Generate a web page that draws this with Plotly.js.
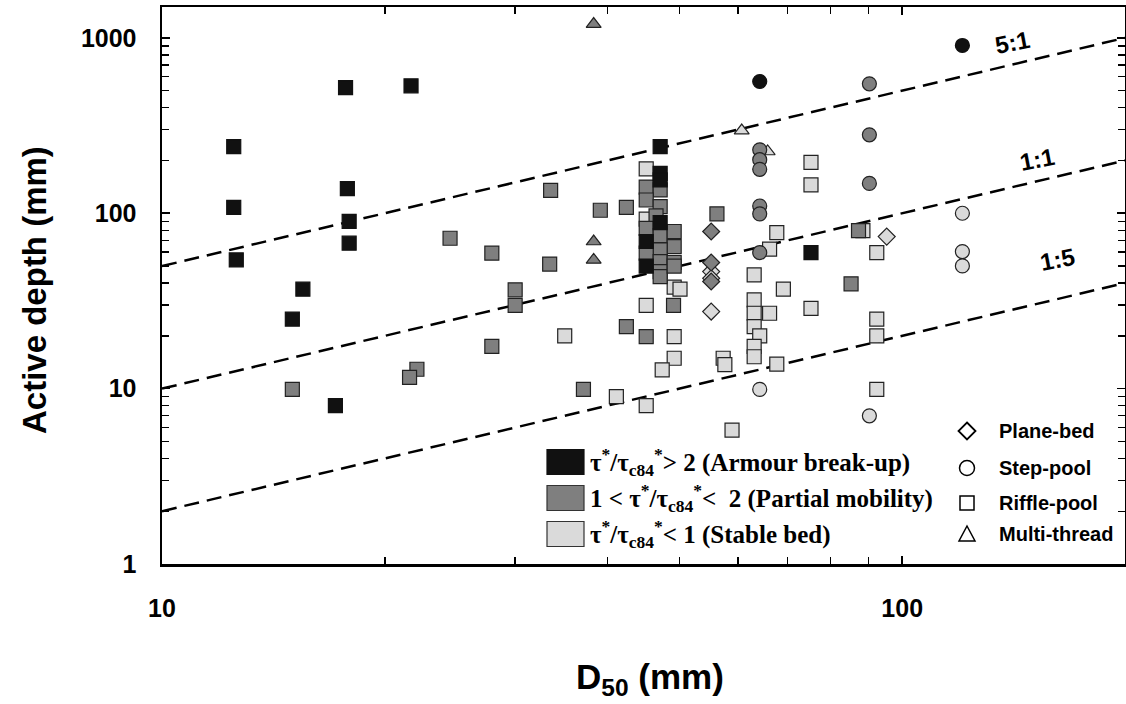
<!DOCTYPE html>
<html>
<head>
<meta charset="utf-8">
<script src="https://cdn.plot.ly/plotly-3.0.1.min.js"></script>
<style>html,body{margin:0;padding:0;background:#fff;}#chart{width:1126px;height:704px;}</style>
</head>
<body>
<div id="chart"></div>
<script>
// ---------- DATA (D50 mm, active depth mm) ----------
// Armour break-up (black)
const blackSquareD = [12.5, 17.7, 21.7, 12.5, 17.8, 17.9, 17.9, 12.6, 15.5, 15.0, 17.15, 47.1, 47.1, 47.1, 45.1, 45.1, 47.1, 75.3];
const blackSquareH = [240, 521, 533, 108, 138, 90, 67.5, 54.2, 36.9, 24.9, 8.0, 240, 169, 155, 69, 50, 88.5, 59.7];
const blackCircleD = [64.2, 120.6];
const blackCircleH = [564, 905];

// Partial mobility (dark grey)
const graySquareD = [24.5, 15.0, 22.1, 21.6, 33.5, 45.1, 47.1, 45.1, 47.1, 39.1, 42.4, 46.5, 45.1, 47.1, 49.2, 49.2, 47.1, 45.1, 47.1, 49.2, 47.1, 47.1, 49.2, 27.9, 33.4, 30.0, 30.0, 27.9, 49.1, 42.4, 45.1, 37.1, 56.2, 87.3, 85.3];
const graySquareH = [72, 9.9, 12.9, 11.6, 135, 141, 136, 119, 109, 104, 108, 96.7, 82, 74.5, 78.7, 64.6, 61.8, 59.2, 53, 52.4, 46.5, 43.5, 50, 59.2, 51.3, 36.6, 29.8, 17.4, 29.8, 22.6, 19.8, 9.9, 99.2, 79.7, 39.6];
const grayCircleD = [90.3, 90.3, 64.2, 64.2, 64.2, 90.3, 64.2, 64.2, 64.2];
const grayCircleH = [547, 280, 230, 202, 178, 148, 110, 99.2, 59.7];
const grayDiamondD = [55.2, 55.2, 55.2];
const grayDiamondH = [78.7, 52.4, 40.8];
const grayTriangleD = [38.3, 38.3, 38.3];
const grayTriangleH = [1199, 69, 54.2];

// Stable bed (light grey)
const lightSquareD = [45.1, 45.1, 49.2, 50.1, 45.1, 49.2, 49.2, 47.4, 35.0, 41.1, 45.1, 75.3, 75.3, 67.7, 66.2, 88.5, 92.4, 63.1, 69.1, 63.1, 63.1, 63.1, 66.2, 64.2, 63.1, 63.1, 57.3, 57.6, 67.7, 75.3, 92.4, 92.4, 92.4, 58.9];
const lightSquareH = [179, 92.6, 37.9, 36.9, 29.8, 19.8, 14.9, 12.8, 20.0, 9.0, 8.0, 195, 145, 77.6, 62.4, 79.7, 59.7, 44.5, 36.9, 32.1, 26.9, 22.6, 26.9, 20.0, 17.4, 15.2, 14.9, 13.7, 13.8, 28.7, 24.9, 20.0, 9.9, 5.8];
const lightCircleD = [64.2, 90.3, 120.6, 120.6, 120.6];
const lightCircleH = [9.9, 7.0, 100, 60.5, 50.1];
const lightDiamondD = [95.3, 55.2, 55.2, 55.2];
const lightDiamondH = [73.6, 46.5, 42.6, 27.5];
const lightTriangleD = [60.7, 65.8];
const lightTriangleH = [296, 225];

// Reference ratio lines (depth : D50)
const ratioLineD = [10, 200];
const ratio5to1H = [50, 1000];
const ratio1to1H = [10, 200];
const ratio1to5H = [2, 40];
const ratioLabels = ['5:1', '1:1', '1:5'];

// Axis ticks
const xTickVals = [10, 100];
const xTickText = ['10', '100'];
const xMinorVals = [20, 30, 40, 50, 60, 70, 80, 90, 200];
const yTickVals = [1, 10, 100, 1000];
const yTickText = ['1', '10', '100', '1000'];
const yMinorVals = [2, 3, 4, 5, 6, 7, 8, 9, 20, 30, 40, 50, 60, 70, 80, 90, 200, 300, 400, 500, 600, 700, 800, 900];

// Legend text
const categoryLabels = [
  'τ<sup>*</sup>/τ<sub>c84</sub><sup>*</sup>> 2 (Armour break-up)',
  '1 < τ<sup>*</sup>/τ<sub>c84</sub><sup>*</sup>< \u00a02 (Partial mobility)',
  'τ<sup>*</sup>/τ<sub>c84</sub><sup>*</sup>< 1 (Stable bed)'
];
const shapeLabels = ['Plane-bed', 'Step-pool', 'Riffle-pool', 'Multi-thread'];

// ---------- STYLE ----------
const BLACK = '#111111', GRAY = '#7f7f7f', LIGHT = '#dadada', EDGE = '#222222';
const SANS = '"Liberation Sans", Arial, Helvetica, sans-serif';
const SERIF = '"Liberation Serif", "Times New Roman", serif';

function pts(x, y, color, symbol, size) {
  return {
    type: 'scatter', mode: 'markers', x: x, y: y, showlegend: false, hoverinfo: 'x+y',
    marker: { symbol: symbol, size: size, color: color, line: { color: color === BLACK ? BLACK : EDGE, width: 1.2 } }
  };
}
function refLine(y) {
  return { type: 'scatter', mode: 'lines', x: ratioLineD, y: y, showlegend: false, hoverinfo: 'skip',
    line: { color: '#000', width: 2.5, dash: '15px,8px' } };
}

const traces = [
  refLine(ratio5to1H), refLine(ratio1to1H), refLine(ratio1to5H),
  pts(lightTriangleD, lightTriangleH, LIGHT, 'triangle-up', 13),
  pts(lightSquareD, lightSquareH, LIGHT, 'square', 14),
  pts(lightCircleD, lightCircleH, LIGHT, 'circle', 14),
  pts(lightDiamondD, lightDiamondH, LIGHT, 'diamond', 13),
  pts(graySquareD, graySquareH, GRAY, 'square', 14),
  pts(grayTriangleD, grayTriangleH, GRAY, 'triangle-up', 13),
  pts(grayCircleD, grayCircleH, GRAY, 'circle', 14),
  pts(grayDiamondD, grayDiamondH, GRAY, 'diamond', 13),
  pts(blackSquareD, blackSquareH, BLACK, 'square', 14),
  pts(blackCircleD, blackCircleH, BLACK, 'circle', 14)
];

// ---------- LAYOUT ----------
const W = 1126, H = 704, ML = 162, MR = 1, MT = 7, MB = 140;
const PW = W - ML - MR, PH = H - MT - MB;
const px = v => (v - ML) / PW;          // pixel -> paper x
const py = v => (H - MB - v) / PH;      // pixel -> paper y

const annotations = [];
const shapes = [];

// axis titles
annotations.push({ xref: 'paper', yref: 'paper', x: px(34), y: py(290), text: 'Active depth (mm)', textangle: -90,
  showarrow: false, xanchor: 'center', yanchor: 'middle', font: { family: SANS, size: 33, weight: 700, color: '#000' } });
annotations.push({ xref: 'paper', yref: 'paper', x: px(650), y: py(679), text: 'D<sub>50</sub> (mm)',
  showarrow: false, xanchor: 'center', yanchor: 'middle', font: { family: SANS, size: 35, weight: 700, color: '#000' } });

// ratio labels
const ratioPos = [[1012, 42], [1037, 160], [1057, 259]];
ratioLabels.forEach((t, i) => annotations.push({ xref: 'paper', yref: 'paper', x: px(ratioPos[i][0]), y: py(ratioPos[i][1]),
  text: t, textangle: -11, showarrow: false, xanchor: 'center', yanchor: 'middle',
  font: { family: SANS, size: 24, weight: 700, color: '#000' } }));

// category legend
const catFill = [BLACK, GRAY, LIGHT];
const catRowY = [462, 498, 534];
categoryLabels.forEach((t, i) => {
  shapes.push({ type: 'rect', xref: 'paper', yref: 'paper', x0: px(547), x1: px(584), y0: py(catRowY[i] + 12.5), y1: py(catRowY[i] - 12.5),
    fillcolor: catFill[i], line: { color: catFill[i] === BLACK ? BLACK : '#333', width: 1.2 } });
  annotations.push({ xref: 'paper', yref: 'paper', x: px(588), y: py(catRowY[i]), text: t, showarrow: false,
    xanchor: 'left', yanchor: 'middle', font: { family: SERIF, size: 25, weight: 700, color: '#000' } });
});

// shape legend
const shRowY = [431, 468, 503, 534];
const sx = 967;
function pathPaper(ptsArr) { return 'M' + ptsArr.map(p => px(p[0]) + ',' + py(p[1])).join('L') + 'Z'; }
shapes.push({ type: 'path', xref: 'paper', yref: 'paper', path: pathPaper([[sx, shRowY[0] - 8.5], [sx + 8.5, shRowY[0]], [sx, shRowY[0] + 8.5], [sx - 8.5, shRowY[0]]]),
  line: { color: '#000', width: 1.8 }, fillcolor: 'rgba(0,0,0,0)' });
shapes.push({ type: 'circle', xref: 'paper', yref: 'paper', x0: px(sx - 7.5), x1: px(sx + 7.5), y0: py(shRowY[1] + 7.5), y1: py(shRowY[1] - 7.5),
  line: { color: '#000', width: 1.5 }, fillcolor: 'rgba(0,0,0,0)' });
shapes.push({ type: 'rect', xref: 'paper', yref: 'paper', x0: px(sx - 7), x1: px(sx + 7), y0: py(shRowY[2] + 7), y1: py(shRowY[2] - 7),
  line: { color: '#000', width: 1.5 }, fillcolor: 'rgba(0,0,0,0)' });
shapes.push({ type: 'path', xref: 'paper', yref: 'paper', path: pathPaper([[sx, shRowY[3] - 8], [sx + 8, shRowY[3] + 7], [sx - 8, shRowY[3] + 7]]),
  line: { color: '#000', width: 1.5 }, fillcolor: 'rgba(0,0,0,0)' });
shapeLabels.forEach((t, i) => annotations.push({ xref: 'paper', yref: 'paper', x: px(997), y: py(shRowY[i]), text: t, showarrow: false,
  xanchor: 'left', yanchor: 'middle', font: { family: SANS, size: 20, weight: 700, color: '#000' } }));

const axisCommon = {
  type: 'log', showgrid: false, zeroline: false, showline: true, linecolor: '#000', linewidth: 2.5, mirror: 'ticks',
  ticks: 'inside', ticklen: 8, tickwidth: 1.6, tickcolor: '#000',
  tickfont: { family: SANS, size: 25, weight: 700, color: '#000' }
};

const layout = {
  width: W, height: H,
  margin: { l: ML, r: MR, t: MT, b: MB, pad: 0 },
  paper_bgcolor: '#fff', plot_bgcolor: '#fff', showlegend: false,
  xaxis: Object.assign({}, axisCommon, {
    range: [1, Math.log10(200)], tickmode: 'array', tickvals: xTickVals, ticktext: xTickText, ticklabelstandoff: 20,
    minor: { tickmode: 'array', tickvals: xMinorVals, ticks: 'inside', ticklen: 7, tickwidth: 1.4, tickcolor: '#000', showgrid: false }
  }),
  yaxis: Object.assign({}, axisCommon, {
    range: [0, Math.log10(1500)], tickmode: 'array', tickvals: yTickVals, ticktext: yTickText, ticklabelstandoff: 18,
    minor: { tickmode: 'array', tickvals: yMinorVals, ticks: 'inside', ticklen: 7, tickwidth: 1.4, tickcolor: '#000', showgrid: false }
  }),
  annotations: annotations,
  shapes: shapes
};

Plotly.newPlot('chart', traces, layout, { displayModeBar: false, staticPlot: true });
</script>
</body>
</html>
